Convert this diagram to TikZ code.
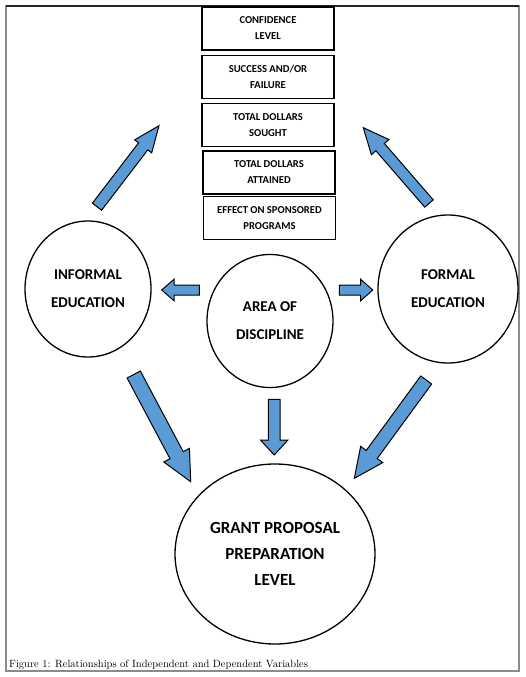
\documentclass[tikz,border=0pt]{standalone}
\usepackage{fontspec}
\newfontfamily\calib{Carlito}
\usetikzlibrary{shapes.geometric,calc}
\definecolor{arrowblue}{RGB}{91,155,213}
\definecolor{framegray}{RGB}{140,140,140}
\tikzset{
  blockarrow/.style={draw=black, line width=1pt, fill=arrowblue, line join=miter},
  varbox/.style={draw=black, line width=1.8pt, rectangle, minimum width=132pt, minimum height=43pt,
    inner sep=0pt, align=center, font=\calib\bfseries\fontsize{10.6}{16}\selectfont},
  circ/.style={draw=black, line width=1.3pt, ellipse, inner sep=0pt, align=center,
    font=\calib\bfseries\fontsize{15}{28}\selectfont},
}
\newcommand\blkarrow[5]{%
  \coordinate (bah) at ($(#2)!#5pt!(#1)$);
  \draw[blockarrow] ($(#1)!#3pt!90:(#2)$) -- ($(bah)!#3pt!90:(#2)$) -- ($(bah)!#4pt!90:(#2)$) -- (#2)
    -- ($(bah)!#4pt!-90:(#2)$) -- ($(bah)!#3pt!-90:(#2)$) -- ($(#1)!#3pt!-90:(#2)$) -- cycle;}
\begin{document}
\begin{tikzpicture}[x=1pt,y=-1pt]
\useasboundingbox (0,0) rectangle (526,677);
% frame
\draw[framegray, line width=2pt] (6,6) rectangle (519,671);
\draw[black!85, line width=1.5pt] (6,6) -- (519,6);
% boxes
\node[varbox] (conf) at (268,28.5) {CONFIDENCE\\LEVEL};
\node[varbox] (succ) at (268,77) {SUCCESS AND/OR\\FAILURE};
\node[varbox] (sought) at (268,125) {TOTAL DOLLARS\\SOUGHT};
\node[varbox] (attained) at (269,172.5) {TOTAL DOLLARS\\ATTAINED};
\node[varbox] (effect) at (269.5,218) {EFFECT ON SPONSORED\\PROGRAMS};
% circles
\node[circ, minimum width=126pt, minimum height=136pt] (informal) at (88,289) {INFORMAL\\EDUCATION};
\node[circ, minimum width=126pt, minimum height=133pt] (area) at (270,321) {AREA OF\\DISCIPLINE};
\node[circ, minimum width=140pt, minimum height=148pt] (formal) at (448,289) {FORMAL\\EDUCATION};
\node[circ, minimum width=200pt, minimum height=180pt, font=\calib\bfseries\fontsize{17}{26}\selectfont] (grant) at (275,554) {GRANT PROPOSAL\\PREPARATION\\LEVEL};
% arrow end points
\coordinate (a1s) at (97,206.7);  \coordinate (a1e) at (159,125.7);
\coordinate (a2s) at (429,203.5); \coordinate (a2e) at (363.3,127.7);
\coordinate (a3s) at (199.3,290); \coordinate (a3e) at (161.7,290);
\coordinate (a4s) at (339.3,290); \coordinate (a4e) at (372.7,290);
\coordinate (a5s) at (274.2,399.3); \coordinate (a5e) at (274.2,455);
\coordinate (a6s) at (133.7,374.5); \coordinate (a6e) at (190.7,481.7);
\coordinate (a7s) at (426.2,380); \coordinate (a7e) at (354.3,478.3);
\blkarrow{a1s}{a1e}{5.8}{10.7}{26}
\blkarrow{a2s}{a2e}{5.6}{11.6}{25.7}
\blkarrow{a3s}{a3e}{5}{10.7}{12.3}
\blkarrow{a4s}{a4e}{5}{10.7}{12}
\blkarrow{a5s}{a5e}{5.8}{13.7}{15}
\blkarrow{a6s}{a6e}{7.5}{14.5}{30}
\blkarrow{a7s}{a7e}{6.8}{13.7}{29.5}
% caption
\node[anchor=west, inner sep=0pt, font=\fontsize{10.5}{12}\selectfont] (caption) at (9,664.5) {Figure 1: Relationships of Independent and Dependent Variables};
\end{tikzpicture}
\end{document}
